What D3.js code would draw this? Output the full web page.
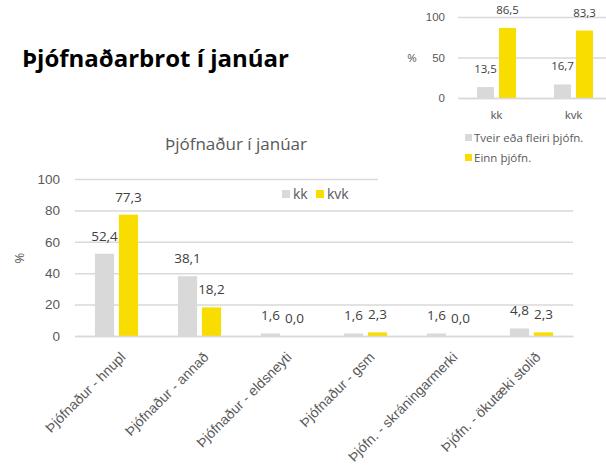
<!DOCTYPE html>
<html>
<head>
<meta charset="utf-8">
<script src="https://cdn.jsdelivr.net/npm/d3@7/dist/d3.min.js"></script>
<style>
  body { margin: 0; background: #fff; }
  svg { font-family: "Open Sans", sans-serif; }
  .axis text { fill: #595959; }
  .axis .tick line { stroke: #d9d9d9; stroke-width: 1.5; }
  .lbl { fill: #404040; text-anchor: middle; }
</style>
</head>
<body>
<svg id="chart" width="606" height="470"></svg>
<script>
// main chart data
var categories = ["Þjófnaður - hnupl", "Þjófnaður - annað", "Þjófnaður - eldsneyti",
                  "Þjófnaður - gsm", "Þjófn. - skráningarmerki", "Þjófn. - ökutæki stolið"];
var seriesNames = ["kk", "kvk"];
var kk  = [52.4, 38.1, 1.6, 1.6, 1.6, 4.8];
var kvk = [77.3, 18.2, 0.0, 2.3, 0.0, 2.3];
var yTicks = [0, 20, 40, 60, 80, 100];

// inset chart data
var insetGroups = ["kk", "kvk"];
var insetSeries = ["Tveir eða fleiri þjófn.", "Einn þjófn."];
var tveir = [13.5, 16.7];
var einn  = [86.5, 83.3];
var insetTicks = [0, 50, 100];

var colors = ["#d9d9d9", "#f9dc00"];
var fmt = function(v){ return v.toFixed(1).replace(".", ","); };

var svg = d3.select("#chart");

// ---------- main chart ----------
var x0 = d3.scaleBand().domain(categories).range([75, 573]).paddingInner(0.48).paddingOuter(0.24);
var x1 = d3.scaleBand().domain(seriesNames).range([0, x0.bandwidth()]).paddingInner(0.2);
var y = d3.scaleLinear().domain([0, 100]).range([336, 179]);

var yAxis = d3.axisLeft(y).tickValues(yTicks).tickSize(-(573 - 75)).tickPadding(15);
var gy = svg.append("g").attr("class", "axis").attr("transform", "translate(75,0)").call(yAxis);
gy.select(".domain").remove();
gy.selectAll("text").style("font-size", "13.5px");

var mainData = categories.map(function(c, i){ return {cat: c, vals: [kk[i], kvk[i]]}; });

var groups = svg.append("g").selectAll("g").data(mainData).enter().append("g")
  .attr("transform", function(d){ return "translate(" + x0(d.cat) + ",0)"; });

groups.selectAll("rect").data(function(d){ return d.vals.map(function(v, j){ return {s: seriesNames[j], v: v, j: j}; }); })
  .enter().append("rect")
  .attr("x", function(d){ return x1(d.s); })
  .attr("width", x1.bandwidth())
  .attr("y", function(d){ return y(d.v); })
  .attr("height", function(d){ return y(0) - y(d.v); })
  .attr("fill", function(d){ return colors[d.j]; });

groups.selectAll("text").data(function(d){ return d.vals.map(function(v, j){ return {s: seriesNames[j], v: v}; }); })
  .enter().append("text").attr("class", "lbl")
  .attr("x", function(d){ return x1(d.s) + x1.bandwidth() / 2; })
  .attr("y", function(d){ return y(d.v) - 13; })
  .style("font-size", "13.5px")
  .text(function(d){ return fmt(d.v); });

var xAxis = d3.axisBottom(x0).tickSize(0);
var gx = svg.append("g").attr("class", "axis").attr("transform", "translate(0,336)").call(xAxis);
gx.select(".domain").attr("stroke", "#d9d9d9").attr("stroke-width", 1.5);
gx.selectAll("text")
  .style("font-size", "14px")
  .attr("text-anchor", "end")
  .attr("y", 0).attr("dy", 0)
  .attr("transform", "translate(10,22) rotate(-45)");

svg.append("text").attr("transform", "translate(24,258) rotate(-90)")
  .attr("text-anchor", "middle").attr("fill", "#595959").style("font-size", "13px").text("%");

svg.append("text").attr("x", 236).attr("y", 150).attr("text-anchor", "middle")
  .attr("fill", "#595959").style("font-size", "17px").text("Þjófnaður í janúar");

// main legend
var leg = svg.append("g").selectAll("g").data(seriesNames).enter().append("g")
  .attr("transform", function(d, i){ return "translate(" + (282 + i * 34) + ",190)"; });
leg.append("rect").attr("width", 8).attr("height", 8).attr("fill", function(d, i){ return colors[i]; });
leg.append("text").attr("x", 11).attr("y", 9).attr("fill", "#595959").style("font-size", "14px")
  .text(function(d){ return d; });

// page title
svg.append("text").attr("x", 22).attr("y", 67).attr("fill", "#000")
  .style("font-size", "24px").style("font-weight", "bold").text("Þjófnaðarbrot í janúar");

// ---------- inset chart ----------
var inset = svg.append("g");
inset.append("rect").attr("x", 378).attr("y", 0).attr("width", 228).attr("height", 183).attr("fill", "#fff");

var ix0 = d3.scaleBand().domain(insetGroups).range([458, 612]).paddingInner(0.494).paddingOuter(0.247);
var ix1 = d3.scaleBand().domain(insetSeries).range([0, ix0.bandwidth()]).paddingInner(0.23);
var iy = d3.scaleLinear().domain([0, 100]).range([98, 17]);

var iyAxis = d3.axisLeft(iy).tickValues(insetTicks).tickSize(-(612 - 458)).tickPadding(13);
var giy = inset.append("g").attr("class", "axis").attr("transform", "translate(458,0)").call(iyAxis);
giy.select(".domain").remove();
giy.selectAll("text").style("font-size", "11.5px");

var insetData = insetGroups.map(function(g, i){ return {g: g, vals: [tveir[i], einn[i]]}; });
var igroups = inset.append("g").selectAll("g").data(insetData).enter().append("g")
  .attr("transform", function(d){ return "translate(" + ix0(d.g) + ",0)"; });

igroups.selectAll("rect").data(function(d){ return d.vals.map(function(v, j){ return {s: insetSeries[j], v: v, j: j}; }); })
  .enter().append("rect")
  .attr("x", function(d){ return ix1(d.s); })
  .attr("width", ix1.bandwidth())
  .attr("y", function(d){ return iy(d.v); })
  .attr("height", function(d){ return iy(0) - iy(d.v); })
  .attr("fill", function(d){ return colors[d.j]; });

igroups.selectAll("text").data(function(d){ return d.vals.map(function(v, j){ return {s: insetSeries[j], v: v}; }); })
  .enter().append("text").attr("class", "lbl")
  .attr("x", function(d){ return ix1(d.s) + ix1.bandwidth() / 2; })
  .attr("y", function(d){ return iy(d.v) - 14; })
  .style("font-size", "11.5px")
  .text(function(d){ return fmt(d.v); });

var ixAxis = d3.axisBottom(ix0).tickSize(0).tickPadding(13);
var gix = inset.append("g").attr("class", "axis").attr("transform", "translate(0,98)").call(ixAxis);
gix.select(".domain").attr("stroke", "#d9d9d9").attr("stroke-width", 1.5);
gix.selectAll("text").style("font-size", "11.5px");

inset.append("text").attr("x", 412).attr("y", 62).attr("text-anchor", "middle")
  .attr("fill", "#595959").style("font-size", "11.5px").text("%");

var ileg = inset.append("g").selectAll("g").data(insetSeries).enter().append("g")
  .attr("transform", function(d, i){ return "translate(465," + (134 + i * 20) + ")"; });
ileg.append("rect").attr("width", 7).attr("height", 7).attr("fill", function(d, i){ return colors[i]; });
ileg.append("text").attr("x", 9).attr("y", 8).attr("fill", "#595959").style("font-size", "11.5px")
  .text(function(d){ return d; });
</script>
</body>
</html>
